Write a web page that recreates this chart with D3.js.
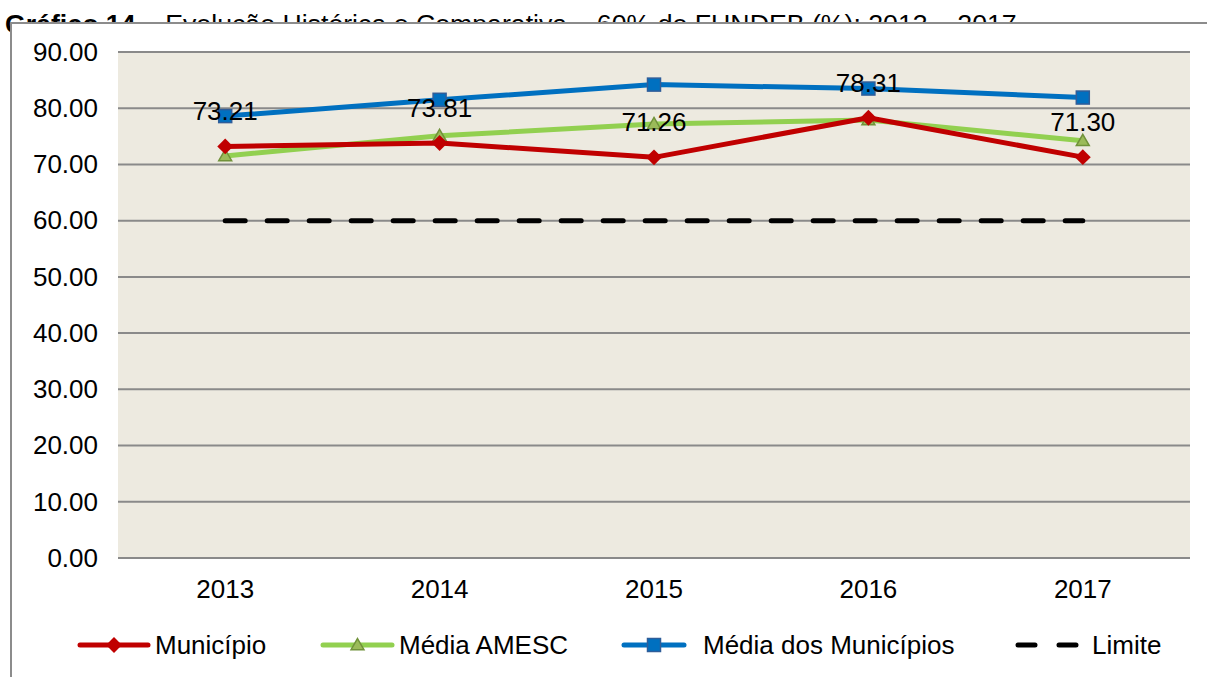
<!DOCTYPE html>
<html>
<head>
<meta charset="utf-8">
<script src="https://cdn.jsdelivr.net/npm/d3@7"></script>
<style>
  body { margin: 0; background: #fff; }
  svg text { font-family: "Liberation Sans", Arial, sans-serif; }
</style>
</head>
<body>
<div id="chart"></div>
<script>
const years = ["2013", "2014", "2015", "2016", "2017"];
const municipio = [73.21, 73.81, 71.26, 78.31, 71.30];
const mediaAmesc = [71.5, 75.1, 77.2, 77.9, 74.2];
const mediaMunicipios = [78.6, 81.5, 84.2, 83.5, 81.9];
const limite = [60, 60, 60, 60, 60];
const yTicks = [0, 10, 20, 30, 40, 50, 60, 70, 80, 90];

const W = 1207, H = 677;
const plot = { left: 118, right: 1190, top: 52, bottom: 558 };
const fs = "26px";

const svg = d3.select("#chart").append("svg")
    .attr("width", W)
    .attr("height", H);

// Title (partly hidden behind the chart frame, as in the source)
const title = svg.append("text")
    .attr("x", 5)
    .attr("y", 33)
    .style("font-size", "26.7px");
title.append("tspan").style("font-weight", "bold").text("Gráfico 14");
title.append("tspan").text(" – Evolução Histórica e Comparativa – 60% do FUNDEB (%): 2013 – 2017");

// Chart frame
svg.append("rect")
    .attr("x", 11).attr("y", 23)
    .attr("width", W).attr("height", H)
    .attr("fill", "#fff")
    .attr("stroke", "#8c8c8c")
    .attr("stroke-width", 2);

const x = d3.scaleBand()
    .domain(years)
    .range([plot.left, plot.right]);

const y = d3.scaleLinear()
    .domain([0, 90])
    .range([plot.bottom, plot.top]);

const cx = d => x(d) + x.bandwidth() / 2;

// Plot background
svg.append("rect")
    .attr("x", plot.left).attr("y", plot.top)
    .attr("width", plot.right - plot.left)
    .attr("height", plot.bottom - plot.top)
    .attr("fill", "#edeae0");

// Gridlines
svg.append("g").selectAll("line")
    .data(yTicks)
    .enter().append("line")
    .attr("x1", plot.left).attr("x2", plot.right)
    .attr("y1", d => y(d)).attr("y2", d => y(d))
    .attr("stroke", "#8a8a8a")
    .attr("stroke-width", 2);

// Y axis labels
const yAxis = svg.append("g")
    .attr("transform", `translate(${plot.left - 20},0)`)
    .call(d3.axisLeft(y).tickValues(yTicks).tickFormat(d3.format(".2f")).tickSize(0).tickPadding(0));
yAxis.select(".domain").remove();
yAxis.selectAll("text")
    .style("font-size", fs)
    .style("font-family", "Liberation Sans, Arial, sans-serif")
    .attr("fill", "#000");

// X axis labels
const xAxis = svg.append("g")
    .attr("transform", `translate(0,${plot.bottom})`)
    .call(d3.axisBottom(x).tickSize(0).tickPadding(22));
xAxis.select(".domain").remove();
xAxis.selectAll("text")
    .style("font-size", fs)
    .style("font-family", "Liberation Sans, Arial, sans-serif")
    .attr("fill", "#000");

const line = d3.line()
    .x((d, i) => cx(years[i]))
    .y(d => y(d));

// Limite (dashed)
svg.append("path")
    .datum(limite)
    .attr("d", line)
    .attr("fill", "none")
    .attr("stroke", "#000")
    .attr("stroke-width", 5)
    .attr("stroke-linecap", "round")
    .attr("stroke-dasharray", "20 22");

const series = [
    { name: "Município", values: municipio, color: "#c00000", marker: "diamond" },
    { name: "Média AMESC", values: mediaAmesc, color: "#92d050", marker: "triangle" },
    { name: "Média dos Municípios", values: mediaMunicipios, color: "#0070c0", marker: "square" }
];

function drawMarker(g, type, px, py) {
    if (type === "diamond") {
        g.append("path")
            .attr("d", d3.symbol(d3.symbolDiamond2, 160)())
            .attr("transform", `translate(${px},${py})`)
            .attr("fill", "#c00000");
    } else if (type === "triangle") {
        g.append("path")
            .attr("d", d3.symbol(d3.symbolTriangle2, 120)())
            .attr("transform", `translate(${px},${py + 1})`)
            .attr("fill", "#9bbb59")
            .attr("stroke", "#71923a")
            .attr("stroke-width", 1.5);
    } else {
        g.append("rect")
            .attr("x", px - 6.5).attr("y", py - 6.5)
            .attr("width", 13).attr("height", 13)
            .attr("fill", "#0070c0")
            .attr("stroke", "#2f5d99")
            .attr("stroke-width", 1.5);
    }
}

// Draw order: blue, green, red on top
[series[2], series[1], series[0]].forEach(s => {
    svg.append("path")
        .datum(s.values)
        .attr("d", line)
        .attr("fill", "none")
        .attr("stroke", s.color)
        .attr("stroke-width", 5)
        .attr("stroke-linejoin", "round");
    const mg = svg.append("g");
    s.values.forEach((v, i) => drawMarker(mg, s.marker, cx(years[i]), y(v)));
});

// Data labels for Município
svg.append("g").selectAll("text")
    .data(municipio)
    .enter().append("text")
    .attr("x", (d, i) => cx(years[i]))
    .attr("y", d => y(d) - 26)
    .attr("text-anchor", "middle")
    .style("font-size", fs)
    .text(d => d.toFixed(2));

// Legend
const legendY = 645;
const legendItems = [
    { s: series[0], x0: 80, x1: 148, tx: 155 },
    { s: series[1], x0: 323, x1: 392, tx: 399 },
    { s: series[2], x0: 624, x1: 684, tx: 703 }
];
const legend = svg.append("g");
legendItems.forEach(it => {
    legend.append("line")
        .attr("x1", it.x0).attr("x2", it.x1)
        .attr("y1", legendY).attr("y2", legendY)
        .attr("stroke", it.s.color)
        .attr("stroke-width", 5)
        .attr("stroke-linecap", "round");
    drawMarker(legend, it.s.marker, (it.x0 + it.x1) / 2, legendY);
    legend.append("text")
        .attr("x", it.tx).attr("y", legendY + 9)
        .style("font-size", fs)
        .text(it.s.name);
});
legend.append("line")
    .attr("x1", 1018).attr("x2", 1076)
    .attr("y1", legendY).attr("y2", legendY)
    .attr("stroke", "#000")
    .attr("stroke-width", 5)
    .attr("stroke-linecap", "round")
    .attr("stroke-dasharray", "17 24");
legend.append("text")
    .attr("x", 1092).attr("y", legendY + 9)
    .style("font-size", fs)
    .text("Limite");
</script>
</body>
</html>
